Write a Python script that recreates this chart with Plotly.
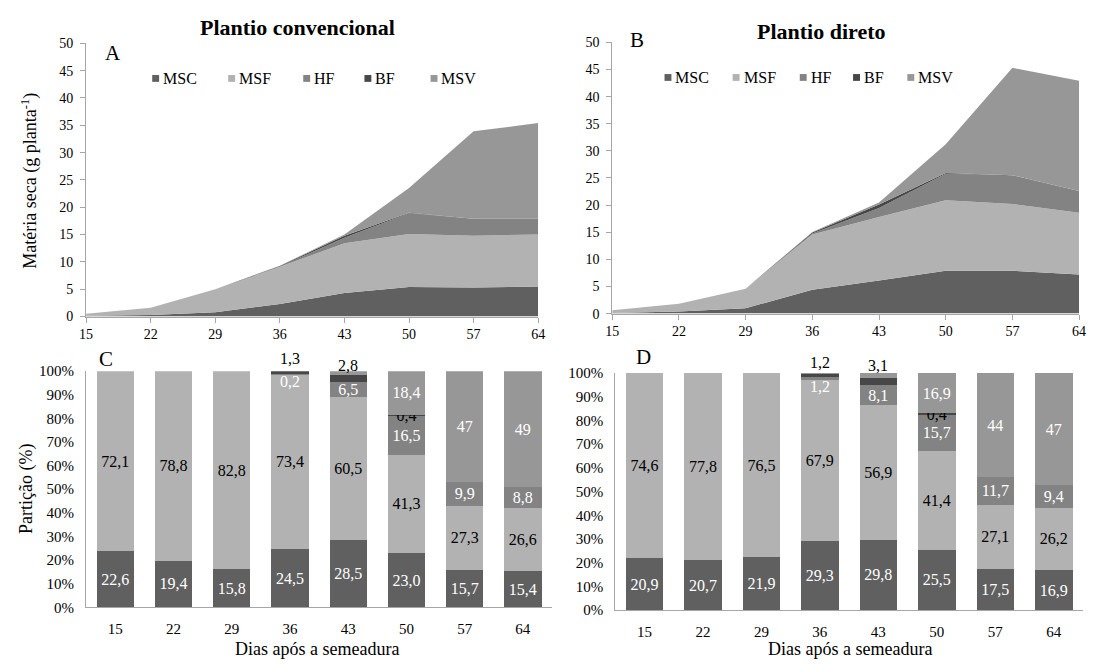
import plotly.graph_objects as go

# page body has an 8px default margin: compensate so the picture matches 1095x667
OFF = 8
W, H = 1095 - OFF, 667 - OFF
FONT = "Liberation Serif, Times New Roman, serif"

dias = [15, 22, 29, 36, 43, 50, 57, 64]
cats = [str(d) for d in dias]
series = ["MSC", "MSF", "HF", "BF", "MSV"]
colors = {"MSC": "#606060", "MSF": "#b2b2b2", "HF": "#838383",
          "BF": "#474747", "MSV": "#979797"}
pct_ticks = list(range(0, 101, 10))
pct_text = [f"{v}%" for v in pct_ticks]

# A - Plantio convencional (g planta-1)
conv_MSC = [0.15, 0.3, 0.8, 2.3, 4.3, 5.4, 5.3, 5.5]
conv_MSF = [0.35, 1.3, 4.2, 6.8, 9.1, 9.7, 9.5, 9.5]
conv_HF = [0, 0, 0, 0.05, 1.0, 3.8, 3.1, 2.9]
conv_BF = [0, 0, 0, 0.1, 0.4, 0.1, 0, 0]
conv_MSV = [0, 0, 0, 0.05, 0.2, 4.5, 16.0, 17.5]

# B - Plantio direto (g planta-1)
dir_MSC = [0.13, 0.37, 1.0, 4.4, 6.1, 7.9, 7.9, 7.2]
dir_MSF = [0.47, 1.43, 3.6, 10.2, 11.7, 13.0, 12.3, 11.4]
dir_HF = [0, 0, 0, 0.18, 1.66, 4.9, 5.3, 4.0]
dir_BF = [0, 0, 0, 0.18, 0.64, 0.12, 0, 0]
dir_MSV = [0, 0, 0, 0.06, 0.4, 5.3, 19.8, 20.3]

# C - Partição (%) convencional
pc_MSC = [22.6, 19.4, 15.8, 24.5, 28.5, 23.0, 15.7, 15.4]
pc_MSF = [72.1, 78.8, 82.8, 73.4, 60.5, 41.3, 27.3, 26.6]
pc_HF = [0, 0, 0, 0.2, 6.5, 16.5, 9.9, 8.8]
pc_BF = [0, 0, 0, 1.3, 2.8, 0.4, 0, 0]
pc_MSV = [0, 0, 0, 0, 1.7, 18.4, 47, 49]

# D - Partição (%) direto
pd_MSC = [20.9, 20.7, 21.9, 29.3, 29.8, 25.5, 17.5, 16.9]
pd_MSF = [74.6, 77.8, 76.5, 67.9, 56.9, 41.4, 27.1, 26.2]
pd_HF = [0, 0, 0, 1.2, 8.1, 15.7, 11.7, 9.4]
pd_BF = [0, 0, 0, 1.2, 3.1, 0.4, 0, 0]
pd_MSV = [0, 0, 0, 0.4, 2.1, 16.9, 44, 47]

# which bar segments carry an in-bar label (others placed as annotations)
label_idx = {"MSC": range(8), "MSF": range(8), "HF": [4, 5, 6, 7],
             "BF": [5], "MSV": [5, 6, 7]}
text_color = {"MSC": "white", "MSF": "black", "HF": "white",
              "BF": "black", "MSV": "white"}


def px_x(x):
    return (x - OFF) / W


def px_y(y):
    return 1 - (y - OFF) / H


def fmt(v):
    return str(v).replace(".", ",")


fig = go.Figure()

areaA = dict(zip(series, [conv_MSC, conv_MSF, conv_HF, conv_BF, conv_MSV]))
areaB = dict(zip(series, [dir_MSC, dir_MSF, dir_HF, dir_BF, dir_MSV]))
for s in series:
    fig.add_trace(go.Scatter(x=dias, y=areaA[s], stackgroup="A", mode="lines",
                             line=dict(width=0, color=colors[s]),
                             fillcolor=colors[s], showlegend=False,
                             xaxis="x", yaxis="y", name=s))
for s in series:
    fig.add_trace(go.Scatter(x=dias, y=areaB[s], stackgroup="B", mode="lines",
                             line=dict(width=0, color=colors[s]),
                             fillcolor=colors[s], showlegend=False,
                             xaxis="x2", yaxis="y2", name=s))

barC = dict(zip(series, [pc_MSC, pc_MSF, pc_HF, pc_BF, pc_MSV]))
barD = dict(zip(series, [pd_MSC, pd_MSF, pd_HF, pd_BF, pd_MSV]))
for data, xa, ya in [(barC, "x3", "y3"), (barD, "x4", "y4")]:
    for s in series:
        vals = data[s]
        txt = [fmt(v) if (i in label_idx[s] and v != 0) else ""
               for i, v in enumerate(vals)]
        fig.add_trace(go.Bar(x=cats, y=vals,
                             marker=dict(color=colors[s], line=dict(width=0)),
                             text=txt, textposition="inside",
                             insidetextanchor="middle", textangle=0,
                             textfont=dict(family=FONT, size=16, color=text_color[s]),
                             showlegend=False, xaxis=xa, yaxis=ya, name=s,
                             hoverinfo="skip"))

axis_common = dict(showline=True, linecolor="#a6a6a6", linewidth=1,
                   showgrid=False, zeroline=False)
tick_top = dict(family=FONT, size=14, color="black")
tick_bot = dict(family=FONT, size=15, color="black")

# domains (paper) from pixel boxes of the reference
domA_x = [px_x(80), px_x(538)]
domA_y = [px_y(316), px_y(36)]
domB_x = [px_x(613), px_x(1086)]
domB_y = [px_y(313), px_y(35)]
domC_x = [px_x(80), px_x(552)]
domC_y = [px_y(614), px_y(372)]
domD_x = [px_x(616), px_x(1090)]
domD_y = [px_y(617), px_y(374)]

fig.update_layout(
    width=W, height=H, margin=dict(l=0, r=0, t=0, b=0),
    paper_bgcolor="white", plot_bgcolor="white",
    font=dict(family=FONT, color="black"),
    barmode="stack", barnorm="percent", bargap=0.36,
    uniformtext=dict(minsize=16, mode="show"),
    xaxis=dict(**axis_common, tickfont=tick_top, domain=domA_x, anchor="y",
               range=[15, 64], tickvals=dias, ticks="outside",
               tickcolor="#a6a6a6", ticklen=5),
    yaxis=dict(**axis_common, tickfont=tick_top, domain=domA_y, anchor="x",
               range=[0, 50], dtick=5, ticks="outside", tickcolor="#a6a6a6",
               ticklen=5, ticklabelstandoff=4),
    xaxis2=dict(**axis_common, tickfont=tick_top, domain=domB_x, anchor="y2",
                range=[15, 64], tickvals=dias, ticks="outside",
                tickcolor="#a6a6a6", ticklen=5),
    yaxis2=dict(**axis_common, tickfont=tick_top, domain=domB_y, anchor="x2",
                range=[0, 50], dtick=5, ticks="outside", tickcolor="#a6a6a6",
                ticklen=5, ticklabelstandoff=4),
    xaxis3=dict(**axis_common, tickfont=tick_bot, domain=domC_x, anchor="y3",
                type="category", range=[-0.5, 7.5], ticklabelstandoff=8),
    yaxis3=dict(**axis_common, tickfont=tick_bot, domain=domC_y, anchor="x3",
                range=[0, 100], tickmode="array", tickvals=pct_ticks,
                ticktext=pct_text, ticklabelstandoff=8),
    xaxis4=dict(**axis_common, tickfont=tick_bot, domain=domD_x, anchor="y4",
                type="category", range=[-0.5, 7.5], ticklabelstandoff=8),
    yaxis4=dict(**axis_common, tickfont=tick_bot, domain=domD_y, anchor="x4",
                range=[0, 100], tickmode="array", tickvals=pct_ticks,
                ticktext=pct_text, ticklabelstandoff=8),
)

ann = []
# titles, panel letters, axis titles
ann.append(dict(text="<b>Plantio convencional</b>", x=px_x(294), y=px_y(20),
                font=dict(family=FONT, size=22)))
ann.append(dict(text="<b>Plantio direto</b>", x=px_x(825), y=px_y(24),
                font=dict(family=FONT, size=22)))
for t, x, y in [("A", 107, 46), ("B", 638, 33), ("C", 100, 360), ("D", 645, 357)]:
    ann.append(dict(text=t, x=px_x(x), y=px_y(y), font=dict(family=FONT, size=21)))
ann.append(dict(text="Matéria seca (g planta<sup>-1</sup>)", x=px_x(23), y=px_y(177),
                textangle=-90, font=dict(family=FONT, size=18)))
ann.append(dict(text="Partição (%)", x=px_x(19), y=px_y(493),
                textangle=-90, font=dict(family=FONT, size=18)))
ann.append(dict(text="Dias após a semeadura", x=px_x(314), y=px_y(657),
                font=dict(family=FONT, size=18)))
ann.append(dict(text="Dias após a semeadura", x=px_x(854), y=px_y(657),
                font=dict(family=FONT, size=18)))
for a in ann:
    a.update(xref="paper", yref="paper", showarrow=False,
             xanchor="center", yanchor="middle")

# legends (manual, as in the original)
shapes = []
legA = [147, 224, 300, 362, 429]
legB = [666, 735, 803, 857, 912]
for lefts, yc in [(legA, 72), (legB, 71)]:
    for s, xl in zip(series, lefts):
        shapes.append(dict(type="rect", xref="paper", yref="paper",
                           x0=px_x(xl), x1=px_x(xl + 7),
                           y0=px_y(yc + 3.5), y1=px_y(yc - 3.5),
                           fillcolor=colors[s], line=dict(width=0)))
        ann.append(dict(text=s, x=px_x(xl + 9), y=px_y(yc), xref="paper",
                        yref="paper", xanchor="left", yanchor="middle",
                        showarrow=False, font=dict(family=FONT, size=16)))

# small-segment labels: x = category index, y in pixels of the picture
extra = [("x3", 3, 359, "1,3", "black"),
         ("x3", 4, 366, "2,8", "black"),
         ("x3", 3, 383, "0,2", "white"),
         ("x4", 3, 363, "1,2", "black"),
         ("x4", 4, 366, "3,1", "black"),
         ("x4", 3, 388, "1,2", "white")]
for xa, x, y, t, c in extra:
    ann.append(dict(text=t, x=x, y=px_y(y), xref=xa, yref="paper",
                    showarrow=False, xanchor="center", yanchor="middle",
                    font=dict(family=FONT, size=16, color=c)))

fig.update_layout(annotations=ann, shapes=shapes)
fig.write_html("out.html")
